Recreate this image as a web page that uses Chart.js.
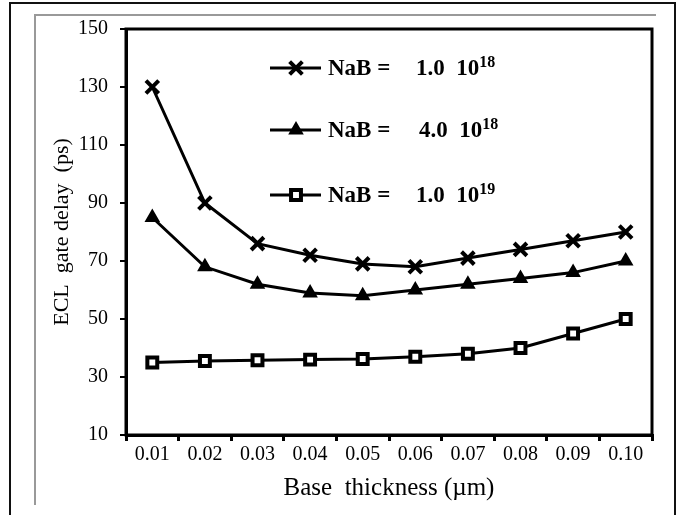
<!DOCTYPE html>
<html>
<head>
<meta charset="utf-8">
<script src="https://cdn.jsdelivr.net/npm/chart.js@4/dist/chart.umd.min.js"></script>
<style>
  body { margin: 0; background: #fff; }
  canvas { display: block; }
</style>
</head>
<body>
<canvas id="delayChart" width="679" height="515"></canvas>
<script>
// Data
var thickness = ['0.01', '0.02', '0.03', '0.04', '0.05', '0.06', '0.07', '0.08', '0.09', '0.10'];
var delay1e18 = [130, 90, 76, 72, 69, 68, 71, 74, 77, 80];
var delay4e18 = [85, 68, 62, 59, 58, 60, 62, 64, 66, 70];
var delay1e19 = [35, 35.5, 35.8, 36, 36.2, 37, 38, 40, 45, 50];
var legendMantissa = ['1.0  10', '4.0  10', '1.0  10'];
var legendExponent = ['18', '18', '19'];
var yTicks = [10, 30, 50, 70, 90, 110, 130, 150];

var serif = "'Liberation Serif', 'Times New Roman', serif";

// draws one marker like the data points, used by the legend
function drawMarker(ctx, ds, x, y) {
    ctx.save();
    ctx.lineWidth = ds.pointBorderWidth;
    ctx.strokeStyle = '#000';
    ctx.fillStyle = ds.pointBackgroundColor;
    var r = ds.pointRadius;
    ctx.beginPath();
    if (ds.pointStyle === 'crossRot') {
        var o = Math.cos(Math.PI / 4) * r;
        ctx.moveTo(x - o, y - o); ctx.lineTo(x + o, y + o);
        ctx.moveTo(x + o, y - o); ctx.lineTo(x - o, y + o);
        ctx.stroke();
    } else if (ds.pointStyle === 'triangle') {
        ctx.moveTo(x, y - r);
        ctx.lineTo(x + r * 0.866, y + r * 0.5);
        ctx.lineTo(x - r * 0.866, y + r * 0.5);
        ctx.closePath();
        ctx.fill(); ctx.stroke();
    } else {
        var s = r / Math.SQRT2;
        ctx.rect(x - s, y - s, 2 * s, 2 * s);
        ctx.fill(); ctx.stroke();
    }
    ctx.restore();
}

var framePlugin = {
    id: 'frame',
    beforeDraw: function (chart) {
        var ctx = chart.ctx;
        ctx.save();
        ctx.fillStyle = '#fff';
        ctx.fillRect(0, 0, chart.width, chart.height);
        // outer black frame (open at bottom)
        ctx.strokeStyle = '#111';
        ctx.lineWidth = 2;
        ctx.beginPath();
        ctx.moveTo(10, 515); ctx.lineTo(10, 3); ctx.lineTo(675, 3); ctx.lineTo(675, 515);
        ctx.stroke();
        // inner grey frame
        ctx.strokeStyle = '#999';
        ctx.lineWidth = 2;
        ctx.beginPath();
        ctx.moveTo(35, 505); ctx.lineTo(35, 15); ctx.lineTo(656, 15);
        ctx.stroke();
        ctx.restore();
    },
    afterDraw: function (chart) {
        var ctx = chart.ctx;
        var a = chart.chartArea;
        ctx.save();
        ctx.strokeStyle = '#000';
        ctx.lineWidth = 3;
        ctx.strokeRect(a.left, a.top, a.right - a.left, a.bottom - a.top);

        // legend inside the plot
        var rows = [68, 130, 195];
        chart.data.datasets.forEach(function (ds, i) {
            var y = rows[i];
            ctx.lineWidth = 3;
            ctx.strokeStyle = '#000';
            ctx.beginPath();
            ctx.moveTo(270, y); ctx.lineTo(321, y);
            ctx.stroke();
            drawMarker(ctx, ds, 296, y);
            ctx.fillStyle = '#000';
            ctx.textBaseline = 'middle';
            ctx.textAlign = 'left';
            ctx.font = 'bold 23px ' + serif;
            ctx.fillText('NaB =', 328, y + 1);
            var vx = i === 1 ? 419 : 416;
            ctx.fillText(legendMantissa[i], vx, y + 1);
            var w = ctx.measureText(legendMantissa[i]).width;
            ctx.font = 'bold 16px ' + serif;
            ctx.fillText(legendExponent[i], vx + w, y - 5);
        });
        ctx.restore();
    }
};

var data = {
    labels: thickness,
    datasets: [
        {
            label: 'NaB = 1.0 10^18',
            data: delay1e18,
            pointStyle: 'crossRot',
            pointRadius: 9,
            pointBorderWidth: 4,
            pointBackgroundColor: '#000'
        },
        {
            label: 'NaB = 4.0 10^18',
            data: delay4e18,
            pointStyle: 'triangle',
            pointRadius: 7,
            pointBorderWidth: 2,
            pointBackgroundColor: '#000'
        },
        {
            label: 'NaB = 1.0 10^19',
            data: delay1e19,
            pointStyle: 'rect',
            pointRadius: 7,
            pointBorderWidth: 4,
            pointBackgroundColor: '#fff'
        }
    ]
};
data.datasets.forEach(function (ds) {
    ds.borderColor = '#000';
    ds.borderWidth = 3;
    ds.pointBorderColor = '#000';
    ds.tension = 0;
});

var chart = new Chart(document.getElementById('delayChart'), {
    type: 'line',
    data: data,
    plugins: [framePlugin],
    options: {
        responsive: false,
        animation: false,
        devicePixelRatio: 1,
        layout: { padding: { top: 29, right: 27, left: 0, bottom: 0 } },
        plugins: {
            legend: { display: false },
            tooltip: { enabled: false }
        },
        scales: {
            x: {
                offset: true,
                grid: { offset: true, drawOnChartArea: false, drawTicks: true, tickLength: 6, color: '#000', lineWidth: 3 },
                border: { color: '#000', width: 3 },
                ticks: { color: '#000', font: { family: serif, size: 20 }, padding: 2, maxRotation: 0 },
                title: {
                    display: true,
                    text: 'Base  thickness (\u00b5m)',
                    color: '#000',
                    font: { family: serif, size: 25 },
                    padding: { top: 0, bottom: 12 }
                },
                afterFit: function (s) { s.height = 80; }
            },
            y: {
                min: 10,
                max: 150,
                afterBuildTicks: function (s) { s.ticks = yTicks.map(function (v) { return { value: v }; }); },
                grid: { drawOnChartArea: false, drawTicks: true, tickLength: 6, color: '#000', lineWidth: 2 },
                border: { color: '#000', width: 3 },
                ticks: { color: '#000', font: { family: serif, size: 20 }, padding: 12 },
                title: {
                    display: true,
                    text: 'ECL  gate delay  (ps)',
                    color: '#000',
                    font: { family: serif, size: 22 },
                    padding: { top: 49, bottom: 0 }
                },
                afterFit: function (s) { s.width = 126; }
            }
        }
    }
});
</script>
</body>
</html>
